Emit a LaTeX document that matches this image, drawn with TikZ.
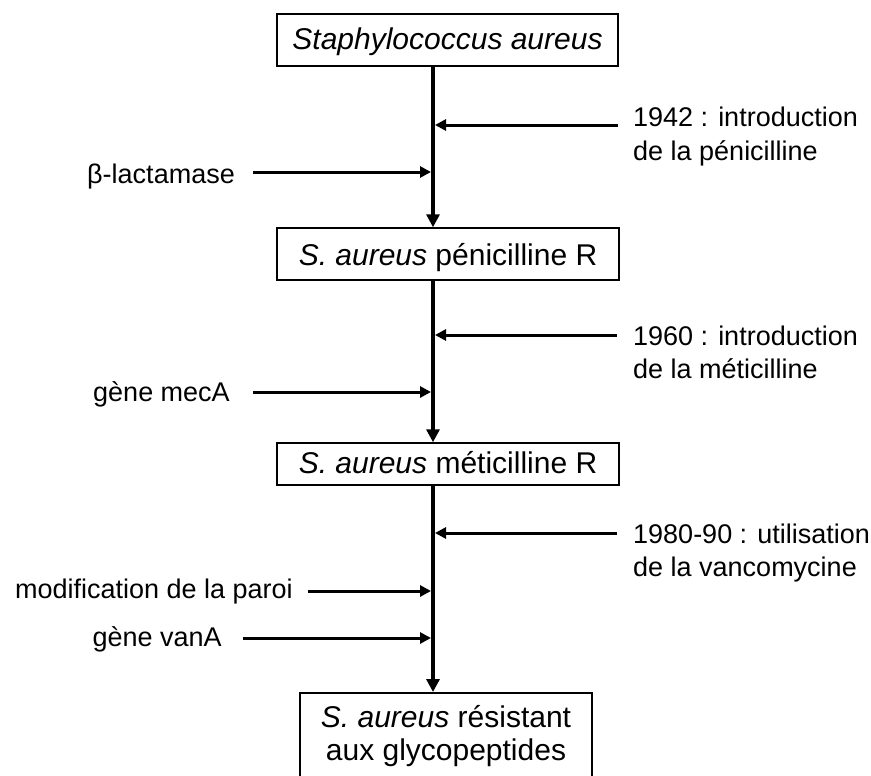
\documentclass[tikz,border=0pt]{standalone}
\usepackage{fontspec}
\setmainfont{Liberation Sans}
\usetikzlibrary{arrows.meta}
\begin{document}
\begin{tikzpicture}[x=1pt,y=-1pt,
  box/.style={draw, line width=1.5pt, inner sep=0pt, anchor=base, font=\fontsize{30}{33}\selectfont},
  lab/.style={inner sep=0pt, font=\fontsize{27}{33}\selectfont},
  spine/.style={line width=4pt, -{Triangle[length=13pt,width=13pt]}},
  feed/.style={line width=3pt, shorten >=2pt, -{Triangle[length=11pt,width=11pt]}}]
\clip (0,0) rectangle (871,776);
\fill[white] (0,0) rectangle (871,776);
\coordinate (sp) at (433,0);
% boxes
\node[box, minimum width=341pt, text height=36pt, text depth=16pt] (b1) at (447.5,50) {\itshape Staphylococcus aureus};
\node[box, minimum width=342pt, text height=37pt, text depth=15pt] (b2) at (448,265) {\textit{S. aureus} pénicilline R};
\node[box, minimum width=342pt, text height=30pt, text depth=12pt] (b3) at (448,473) {\textit{S. aureus} méticilline R};
\node[draw, line width=1.5pt, minimum width=292pt, minimum height=100pt, anchor=north] (b4) at (446,692) {};
\node[anchor=base, inner sep=0pt, font=\fontsize{30}{33}\selectfont] (b4a) at (446,727) {\textit{S. aureus} résistant};
\node[anchor=base, inner sep=0pt, font=\fontsize{30}{33}\selectfont] (b4b) at (446,760) {aux glycopeptides};
% spine
\draw[spine] (b1.south -| sp) -- (b2.north -| sp);
\draw[spine] (b2.south -| sp) -- (b3.north -| sp);
\draw[spine] (b3.south -| sp) -- (b4.north -| sp);
% right labels
\node[lab, anchor=base west] (r1a) at (633,127) {1942 : introduction};
\node[lab, anchor=base west] (r1b) at (633,160) {de la pénicilline};
\node[lab, anchor=base west] (r2a) at (633,345) {1960 : introduction};
\node[lab, anchor=base west] (r2b) at (633,378) {de la méticilline};
\node[lab, anchor=base west] (r3a) at (633,543) {1980-90 : utilisation};
\node[lab, anchor=base west] (r3b) at (633,576) {de la vancomycine};
\coordinate (r1) at (618,125);
\coordinate (r2) at (617,335);
\coordinate (r3) at (617,533);
\draw[feed] (r1) -- (r1 -| sp);
\draw[feed] (r2) -- (r2 -| sp);
\draw[feed] (r3) -- (r3 -| sp);
% left labels
\node[lab, anchor=base east] (l1) at (235,183) {β-lactamase};
\node[lab, anchor=base east] (l2) at (230,401) {gène mecA};
\node[lab, anchor=base east] (l3) at (293,598) {modification de la paroi};
\node[lab, anchor=base east] (l4) at (222,646) {gène vanA};
\coordinate (q1) at (253,172);
\coordinate (q2) at (253,392);
\coordinate (q3) at (308,591);
\coordinate (q4) at (243,638);
\draw[feed] (q1) -- (q1 -| sp);
\draw[feed] (q2) -- (q2 -| sp);
\draw[feed] (q3) -- (q3 -| sp);
\draw[feed] (q4) -- (q4 -| sp);
\end{tikzpicture}
\end{document}
